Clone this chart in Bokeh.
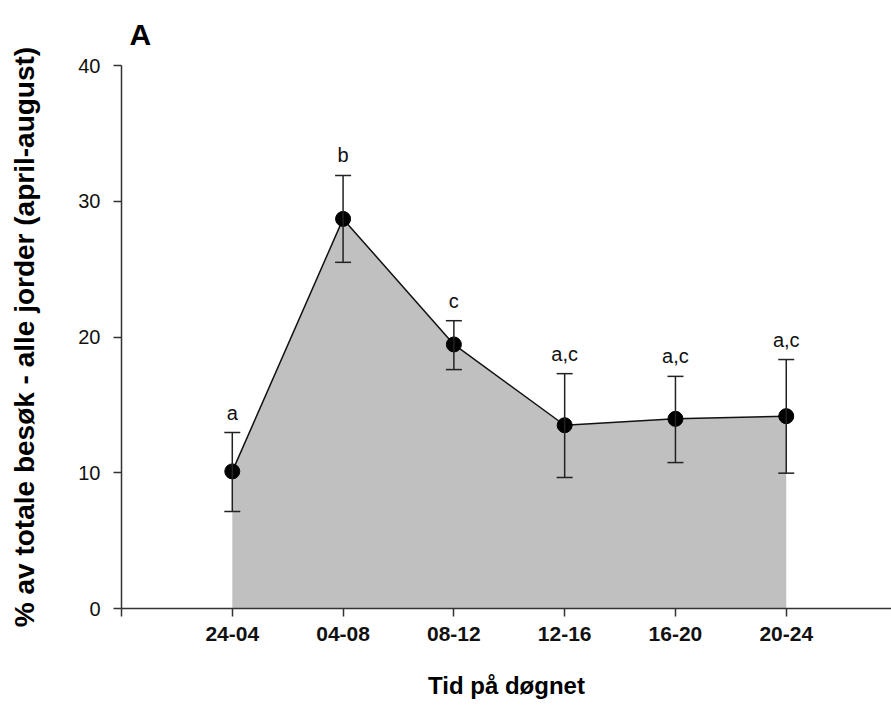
from bokeh.plotting import figure
from bokeh.models import Range1d, ColumnDataSource, Whisker, FixedTicker, TeeHead
from bokeh.embed import file_html
from bokeh.resources import INLINE

categories = ["24-04", "04-08", "08-12", "12-16", "16-20", "20-24"]
means = [10.1, 28.7, 19.45, 13.5, 13.97, 14.17]
upper = [12.96, 31.9, 21.2, 17.3, 17.1, 18.34]
lower = [7.15, 25.5, 17.6, 9.65, 10.75, 9.97]
letters = ["a", "b", "c", "a,c", "a,c", "a,c"]
y_ticks = [0, 10, 20, 30, 40]
panel_label = "A"

xs = list(range(1, len(categories) + 1))
src = ColumnDataSource(dict(x=xs, m=means, up=upper, lo=lower, lab=letters))

FONT = "Liberation Sans"
p = figure(width=891, height=706, output_backend="svg", toolbar_location=None,
           x_range=Range1d(0, 6.95), y_range=Range1d(0, 40),
           min_border_left=121, min_border_right=0, min_border_top=65, min_border_bottom=98)
p.outline_line_color = None
p.grid.visible = False
p.background_fill_color = "white"

p.title.text = panel_label
p.title.text_font = FONT
p.title.text_font_size = "30px"
p.title.text_font_style = "bold"
p.title.text_color = "black"
p.title.align = "left"
p.title.vertical_align = "middle"
p.title.offset = 8
p.title.standoff = 28

p.varea(x="x", y1=0, y2="m", source=src, fill_color="#c0c0c0")
p.add_layout(Whisker(base="x", upper="up", lower="lo", source=src, level="overlay",
                     line_color="#222222", line_width=1.5,
                     upper_head=TeeHead(size=16, line_color="#222222", line_width=1.5),
                     lower_head=TeeHead(size=16, line_color="#222222", line_width=1.5)))
p.line(x="x", y="m", source=src, line_color="#111111", line_width=1.5)
p.scatter(x="x", y="m", source=src, size=15, fill_color="black", line_color="black",
          level="overlay")
p.text(x="x", y="up", text="lab", source=src, text_align="center", text_baseline="bottom",
       y_offset=-9, text_font_size="20px", text_color="#111111",
       text_font={"value": FONT})

for ax in (p.xaxis[0], p.yaxis[0]):
    ax.axis_line_color = "#333333"
    ax.axis_line_width = 1.5
    ax.major_tick_line_color = "#333333"
    ax.major_tick_line_width = 1.5
    ax.minor_tick_line_color = None
    ax.major_tick_in = 0
    ax.major_label_text_font = FONT
    ax.axis_label_text_font = FONT
    ax.axis_label_text_font_style = "bold"
    ax.axis_label_text_color = "black"
    ax.major_label_text_color = "#111111"

p.xaxis.ticker = FixedTicker(ticks=[0] + xs)
p.xaxis.major_label_overrides = {0: "", **{x: c for x, c in zip(xs, categories)}}
p.xaxis.major_tick_out = 8
p.xaxis.major_label_standoff = 10
p.xaxis.major_label_text_font_size = "21px"
p.xaxis.major_label_text_font_style = "bold"
p.xaxis.axis_label = "Tid på døgnet"
p.xaxis.axis_label_text_font_size = "24px"
p.xaxis.axis_label_standoff = 28

p.yaxis.ticker = FixedTicker(ticks=y_ticks)
p.yaxis.major_tick_out = 8
p.yaxis.major_label_standoff = 13
p.yaxis.major_label_text_font_size = "20px"
p.yaxis.axis_label = "% av totale besøk - alle jorder (april-august)"
p.yaxis.axis_label_text_font_size = "28px"
p.yaxis.axis_label_standoff = 35

open("out.html", "w").write(file_html(p, INLINE))
